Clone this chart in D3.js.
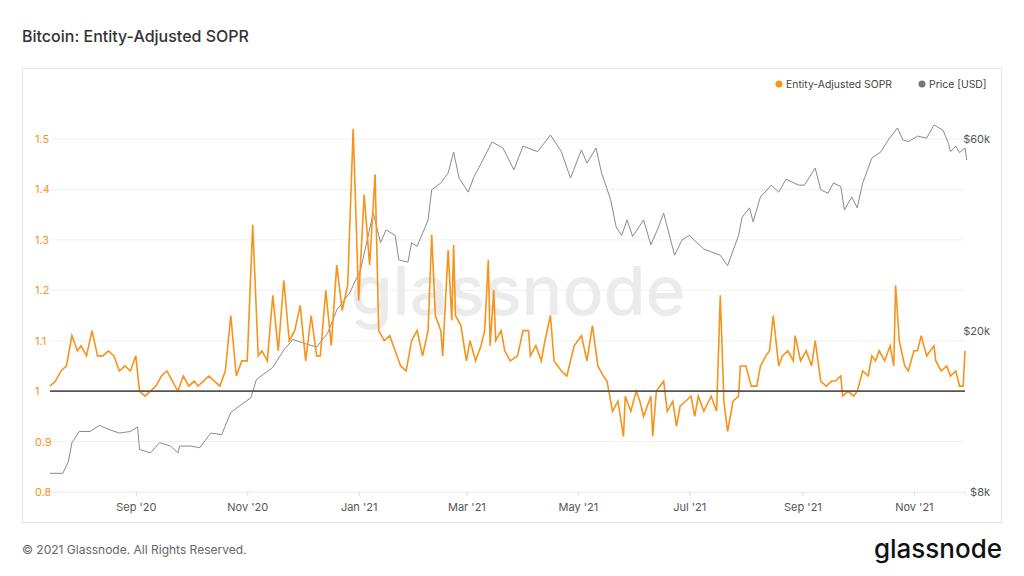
<!DOCTYPE html>
<html><head><meta charset="utf-8">
<script src="https://cdn.jsdelivr.net/npm/d3@7"></script>
<style>body{margin:0;background:#fff;font-family:Inter,"Noto Sans",sans-serif}</style>
</head><body><svg id="c" width="1024" height="576"></svg>
<script>
const startDate = new Date(2020, 6, 16);
const soprDays = [0,3,6,9,12,15,17,20,23,26,29,32,35,38,41,44,47,49,52,55,58,61,64,67,70,73,76,79,81,84,87,90,93,96,99,102,105,108,111,114,116,119,122,125,128,131,134,137,140,143,146,148,151,154,157,160,163,166,169,172,175,178,180,183,186,189,192,195,198,201,204,207,
209,211,214,215,218,220,221,222,225,228,230,233,236,238,240,241,243,244,247,249,252,256,259,262,263,266,269,271,274,276,280,283,287,291,294,297,300,303,305,308,311,314,315,318,321,323,
325,329,330,332,336,338,341,343,345,348,351,353,355,358,362,365,367,369,371,374,377,378,381,384,387,389,392,394,396,399,401,404,407,408,411,414,417,419,422,425,428,430,433,434,437,440,442,445,448,450,452,454,457,460,462,463,465,468,470,473,475,477,480,484,485,488,491,493,496,498,500,501];
const soprValues = [1.01,1.02,1.04,1.05,1.11,1.08,1.09,1.07,1.12,1.07,1.07,1.08,1.07,1.04,1.05,1.04,1.07,1.00,0.99,1.00,1.01,1.03,1.04,1.02,1.00,1.03,1.01,1.02,1.01,1.02,1.03,1.02,1.01,1.04,1.15,1.03,1.06,1.06,1.33,1.07,1.08,1.06,1.19,1.08,1.22,1.10,1.12,1.17,1.06,1.15,1.07,1.07,1.20,1.09,1.25,1.16,1.21,1.52,1.18,1.39,1.25,1.43,1.12,1.10,1.11,1.08,1.05,1.04,1.10,1.12,1.07,1.12,
1.31,1.15,1.12,1.07,1.28,1.14,1.29,1.15,1.13,1.06,1.10,1.06,1.09,1.12,1.26,1.09,1.20,1.10,1.12,1.08,1.06,1.07,1.12,1.12,1.07,1.09,1.06,1.10,1.15,1.06,1.04,1.03,1.09,1.11,1.06,1.13,1.05,1.03,1.02,0.96,0.98,0.91,0.99,0.96,1.00,0.98,
0.95,0.99,0.91,1.00,1.02,0.96,0.98,0.93,0.97,0.98,0.99,0.95,0.99,0.96,0.99,0.96,1.19,0.98,0.92,0.98,0.99,1.05,1.05,1.01,1.01,1.05,1.07,1.08,1.15,1.05,1.07,1.08,1.06,1.11,1.06,1.08,1.05,1.10,1.02,1.01,1.02,1.02,1.03,0.99,1.00,0.99,1.00,1.04,1.03,1.07,1.06,1.08,1.06,1.09,1.05,1.21,1.10,1.05,1.04,1.08,1.08,1.11,1.07,1.09,1.06,1.04,1.05,1.03,1.04,1.01,1.01,1.08];
const priceDays = [0,7,10,12,16,22,27,33,38,44,48,49,55,60,66,70,71,77,82,88,94,99,104,110,113,122,128,133,139,146,152,157,164,170,177,181,184,189,191,196,198,201,207,209,214,218,221,224,229,232,237,242,248,254,259,267,274,280,285,291,294,299,302,307,310,313,316,319,325,329,333,336,342,346,350,358,367,371,377,379,383,385,389,395,399,403,410,413,419,422,426,429,433,435,439,442,445,450,455,459,464,467,470,475,480,484,489,492,493,496,498,501,502];
const priceK = [8.9,8.9,9.5,10.6,11.3,11.3,11.7,11.4,11.2,11.3,11.6,10.2,10.0,10.6,10.4,10.0,10.4,10.4,10.3,11.2,11.1,12.6,13.1,13.7,15.2,16.3,18.0,19.1,18.7,18.3,19.8,22.6,24.9,28.4,39.3,33.2,35.7,34.6,30.1,29.7,33.2,32.5,37.8,44.9,46.7,49.4,55.7,48.0,44.3,48.2,53.2,59.0,57.0,50.3,57.6,55.8,61.4,55.8,48,56.4,52.3,57,49.4,42.4,36.3,34.6,37.8,34.4,37.8,32.8,36.1,39.3,30.9,33.7,34.6,32,30.9,29.1,34.6,38.4,40.5,37.4,43.1,46.1,44.3,47.7,46.1,46.1,50.8,44.9,44.0,46.7,45.7,40.0,43.1,40.5,46.7,53.8,55.8,59.7,63.9,59.7,59.1,61.0,60.3,65.0,63.1,58.4,55.8,57.6,55.5,57,53.2];
const leftTicks = [0.8,0.9,1,1.1,1.2,1.3,1.4,1.5];
const rightTicks = [8000,20000,60000];
const xTickDates = [new Date(2020,8,1),new Date(2020,10,1),new Date(2021,0,1),new Date(2021,2,1),new Date(2021,4,1),new Date(2021,6,1),new Date(2021,8,1),new Date(2021,10,1)];

const svg = d3.select("#c");
const L=50,R=965,T=88,B=492;
const day = d=>d3.timeDay.offset(startDate,d);
const x = d3.scaleTime().domain([startDate, day(501.6)]).range([L,R]);
const y = d3.scaleLinear().domain([0.8,1.5]).range([B,139]);
const yp = d3.scaleLog().domain([8000,60000]).range([B,139]);

svg.append("text").attr("x",22).attr("y",42).attr("font-size",16).attr("font-weight",500).attr("fill","#333").text("Bitcoin: Entity-Adjusted SOPR");
svg.append("rect").attr("x",22.5).attr("y",68.5).attr("width",979).attr("height",454).attr("fill","none").attr("stroke","#e6e6e6");

svg.append("g").selectAll("line").data(leftTicks).join("line")
  .attr("x1",L).attr("x2",R).attr("y1",d=>y(d)).attr("y2",d=>y(d)).attr("stroke","#f0f0f0");
svg.append("text").attr("x",518).attr("y",315).attr("text-anchor","middle").attr("font-size",68).attr("fill","#ebebeb").attr("font-family","Inter,sans-serif").attr("font-weight",500).text("glassnode");

svg.append("g").selectAll("text").data(leftTicks).join("text")
  .attr("x",35).attr("y",d=>y(d)+4).attr("font-size",11).attr("fill","#f7931a").text(d=>d3.format("")(d));
svg.append("g").selectAll("text").data(rightTicks).join("text")
  .attr("x",990).attr("y",d=>yp(d)+4).attr("text-anchor","end").attr("font-size",11).attr("fill","#555").text(d=>"$"+(d/1000)+"k");
const xa = svg.append("g").attr("transform",`translate(0,${B})`)
  .call(d3.axisBottom(x).tickValues(xTickDates).tickSize(4).tickFormat(d3.timeFormat("%b '%y")));
xa.select(".domain").attr("stroke","#eee");
xa.selectAll("line").attr("stroke","#ddd");
xa.selectAll("text").attr("font-size",11).attr("fill","#555").attr("dy","1.1em").attr("font-family","Inter,sans-serif");

const price = priceDays.map((d,i)=>({d:day(d),v:priceK[i]*1000})).filter(p=>!isNaN(p.v));
svg.append("path").datum(price).attr("fill","none").attr("stroke","#8a8a8a").attr("stroke-width",1)
  .attr("d",d3.line().x(p=>x(p.d)).y(p=>yp(p.v)));
const sopr = soprDays.map((d,i)=>({d:day(d),v:soprValues[i]})).filter(p=>p.v!==undefined);
svg.append("path").datum(sopr).attr("fill","none").attr("stroke","#f7931a").attr("stroke-width",1.6)
  .attr("d",d3.line().x(p=>x(p.d)).y(p=>y(p.v)));
svg.append("line").attr("x1",L).attr("x2",R).attr("y1",y(1)).attr("y2",y(1)).attr("stroke","#555").attr("stroke-width",1.6);

const lg = [{t:"Entity-Adjusted SOPR",c:"#f7931a",x:779},{t:"Price [USD]",c:"#777",x:922}];
lg.forEach(l=>{
  svg.append("circle").attr("cx",l.x).attr("cy",84).attr("r",3.5).attr("fill",l.c);
  svg.append("text").attr("x",l.x+7).attr("y",88).attr("font-size",10.4).attr("fill","#444").text(l.t);
});
svg.append("text").attr("x",22).attr("y",554).attr("font-size",12).attr("fill","#666").text("© 2021 Glassnode. All Rights Reserved.");
svg.append("text").attr("x",1002).attr("y",558).attr("text-anchor","end").attr("font-size",26).attr("font-weight",500).attr("fill","#111").text("glassnode");
</script></body></html>
